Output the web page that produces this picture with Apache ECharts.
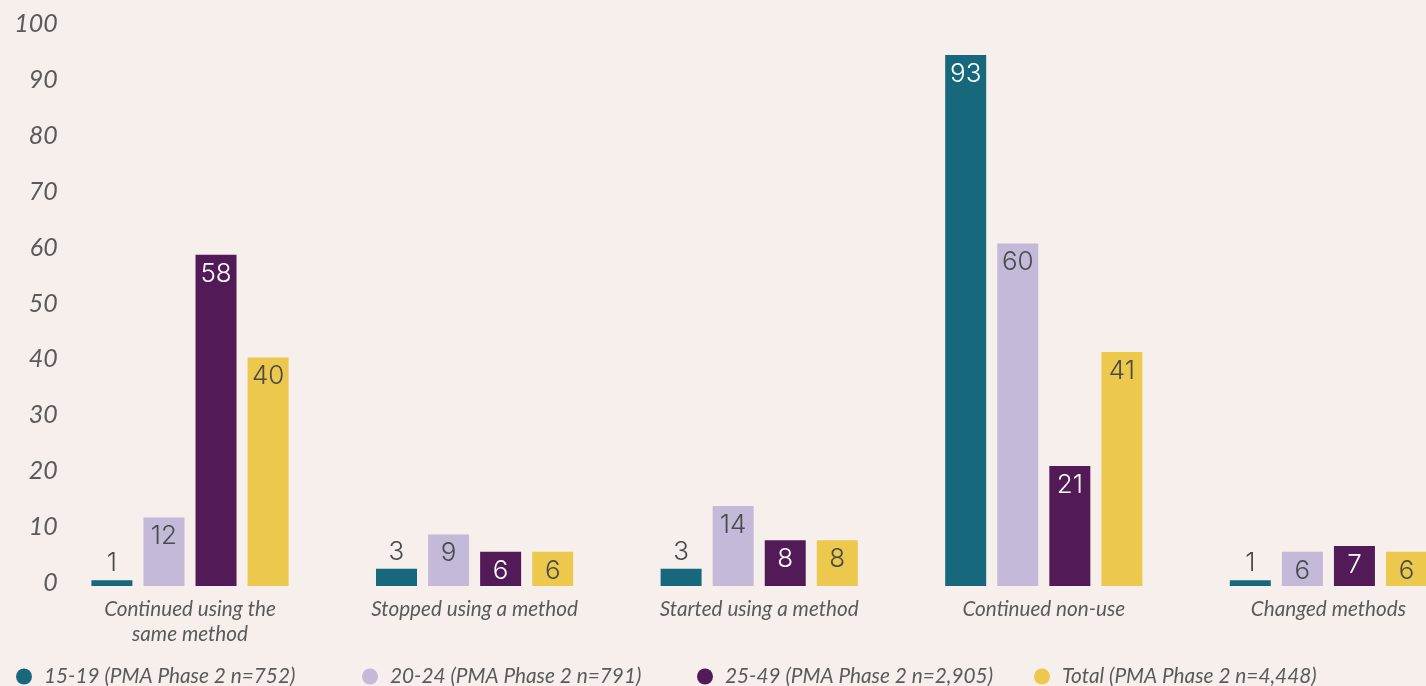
<!DOCTYPE html>
<html>
<head>
<meta charset="utf-8">
<script src="https://cdn.jsdelivr.net/npm/echarts@6/dist/echarts.min.js"></script>
<style>
  html, body { margin: 0; padding: 0; background: #f6efec; }
  #chart { width: 1426px; height: 686px; }
</style>
</head>
<body>
<div id="chart"></div>
<script>
const categories = ['Continued using the\nsame method', 'Stopped using a method', 'Started using a method', 'Continued non-use', 'Changed methods'];
const seriesNames = ['15-19 (PMA Phase 2 n=752)', '20-24 (PMA Phase 2 n=791)', '25-49 (PMA Phase 2 n=2,905)', 'Total (PMA Phase 2 n=4,448)'];
const values1519 = [1, 3, 3, 93, 1];
const values2024 = [12, 9, 14, 60, 6];
const values2549 = [58, 6, 8, 21, 7];
const valuesTotal = [40, 6, 8, 41, 6];
const yTicks = [0, 10, 20, 30, 40, 50, 60, 70, 80, 90, 100];

const colors = ['#17677d', '#c4b9d9', '#521a56', '#ecc94c'];
const labelColors = ['#ffffff', '#4a4a4a', '#ffffff', '#4a4a4a'];
const allValues = [values1519, values2024, values2549, valuesTotal];

const chart = echarts.init(document.getElementById('chart'), null, { renderer: 'canvas' });

const series = allValues.map((vals, i) => ({
  name: seriesNames[i],
  type: 'bar',
  yAxisIndex: 1,
  clip: false,
  barWidth: 41,
  barGap: '27%',
  itemStyle: { color: colors[i] },
  label: {
    show: true,
    position: 'insideTop',
    distance: 6,
    color: labelColors[i],
    fontFamily: 'Inter',
    fontWeight: 300,
    fontSize: 26
  },
  data: vals.map(v => v < 5
    ? { value: v, label: { position: 'top', distance: 4, color: '#4a4a4a' } }
    : { value: v })
}));

const legendLefts = [11, 357, 692, 1029];
const legends = seriesNames.map((n, i) => ({
  data: [n],
  left: legendLefts[i],
  top: 661,
  icon: 'circle',
  itemWidth: 16,
  itemHeight: 16,
  selectedMode: false,
  textStyle: {
    fontFamily: 'Lato',
    fontStyle: 'italic',
    fontSize: 20.8,
    color: '#5a5a5a',
    padding: [0, 0, 0, 7]
  }
}));

chart.setOption({
  animation: false,
  backgroundColor: '#f6efec',
  grid: { left: 47.7, width: 1423, top: 24, bottom: 103, containLabel: false, outerBoundsMode: 'none' },
  legend: legends,
  xAxis: {
    type: 'category',
    data: categories,
    axisLine: { show: false },
    axisTick: { show: false },
    axisLabel: {
      interval: 0,
      margin: 14,
      fontFamily: 'Lato',
      fontStyle: 'italic',
      fontSize: 20.7,
      lineHeight: 25,
      color: '#5a5a5a'
    }
  },
  yAxis: [
    {
      type: 'value',
      min: yTicks[0],
      max: yTicks[yTicks.length - 1],
      interval: yTicks[1] - yTicks[0],
      axisLine: { show: false },
      axisTick: { show: false },
      splitLine: { show: false },
      axisLabel: {
        margin: -10,
        fontFamily: 'Lato',
        fontStyle: 'italic',
        fontSize: 25,
        color: '#5a5a5a'
      }
    },
    {
      type: 'value',
      show: false,
      min: 0.525,
      max: 98.42,
      splitLine: { show: false }
    }
  ],
  series: series
});
</script>
</body>
</html>
